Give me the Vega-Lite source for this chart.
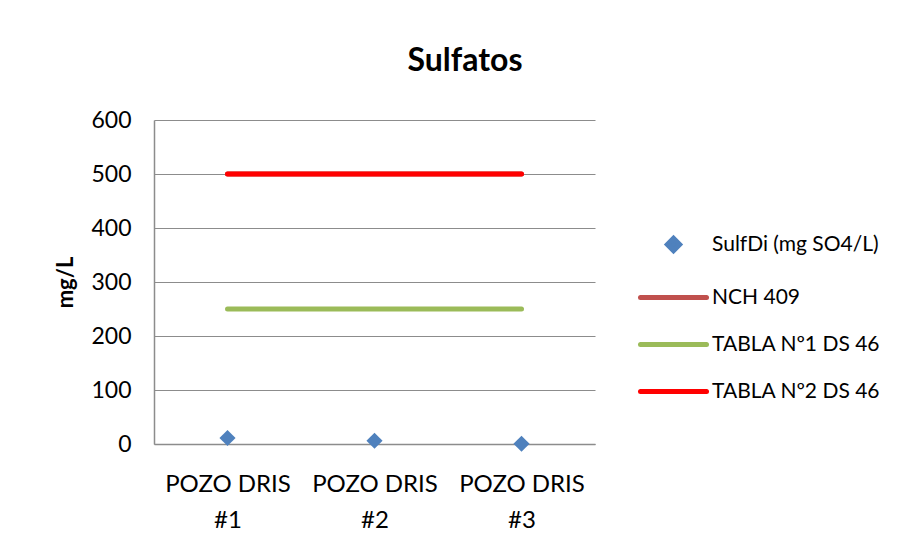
{
  "$schema": "https://vega.github.io/schema/vega-lite/v6.json",
  "width": 441,
  "height": 324,
  "padding": {"left": 54, "top": 45, "right": 5, "bottom": 5},
  "background": "white",
  "title": {"text": "Sulfatos", "fontSize": 32, "font": "Lato", "fontWeight": "bold", "color": "#000000", "anchor": "middle", "frame": "bounds", "offset": 31, "dx": -3},
  "config": {
    "view": {"stroke": null},
    "font": "Lato",
    "axis": {"labelFont": "Lato", "titleFont": "Lato", "labelColor": "#000000", "titleColor": "#000000", "domainColor": "#8c8c8c", "gridColor": "#8c8c8c", "ticks": false}
  },
  "datasets": {
    "muestras": [
      {"pozo": "POZO DRIS #1", "serie": "SulfDi (mg SO4/L)", "valor": 11},
      {"pozo": "POZO DRIS #2", "serie": "SulfDi (mg SO4/L)", "valor": 6},
      {"pozo": "POZO DRIS #3", "serie": "SulfDi (mg SO4/L)", "valor": 0.5}
    ],
    "limites": [
      {"pozo": "POZO DRIS #1", "serie": "NCH 409", "valor": 500},
      {"pozo": "POZO DRIS #2", "serie": "NCH 409", "valor": 500},
      {"pozo": "POZO DRIS #3", "serie": "NCH 409", "valor": 500},
      {"pozo": "POZO DRIS #1", "serie": "TABLA Nº1 DS 46", "valor": 250},
      {"pozo": "POZO DRIS #2", "serie": "TABLA Nº1 DS 46", "valor": 250},
      {"pozo": "POZO DRIS #3", "serie": "TABLA Nº1 DS 46", "valor": 250},
      {"pozo": "POZO DRIS #1", "serie": "TABLA Nº2 DS 46", "valor": 500},
      {"pozo": "POZO DRIS #2", "serie": "TABLA Nº2 DS 46", "valor": 500},
      {"pozo": "POZO DRIS #3", "serie": "TABLA Nº2 DS 46", "valor": 500}
    ]
  },
  "encoding": {
    "x": {"field": "pozo", "type": "nominal", "sort": null,
      "scale": {"paddingInner": 0, "paddingOuter": 0},
      "axis": {"title": null, "labelAngle": 0, "labelFontSize": 24, "labelPadding": 28, "labelLineHeight": 36, "labelExpr": "[slice(datum.label, 0, 9), slice(datum.label, 10)]", "domainWidth": 1.5}},
    "y": {"field": "valor", "type": "quantitative",
      "scale": {"domain": [0, 600], "nice": false},
      "axis": {"title": "mg/L", "titleFontSize": 22, "titleFontWeight": "bold", "titlePadding": 13, "values": [0, 100, 200, 300, 400, 500, 600], "labelFontSize": 23, "labelPadding": 23, "domainWidth": 1.5, "gridWidth": 1.2}},
    "color": {"field": "serie", "type": "nominal",
      "scale": {"domain": ["SulfDi (mg SO4/L)", "NCH 409", "TABLA Nº1 DS 46", "TABLA Nº2 DS 46"], "range": ["#4F81BD", "#C0504D", "#9BBB59", "#FF0000"]},
      "legend": {"title": null, "orient": "none", "legendX": 509, "legendY": 114, "labelFontSize": 21, "labelFont": "Lato", "labelColor": "#000000", "labelLimit": 400, "rowPadding": 25, "symbolOffset": 0, "labelOffset": 28,
        "symbolType": "M-6,0H6", "symbolSize": 121, "symbolStrokeWidth": 5,
        "encode": {"symbols": {"update": {
          "shape": {"signal": "datum.value === 'SulfDi (mg SO4/L)' ? 'diamond' : 'M-6,0H6'"},
          "size": {"signal": "datum.value === 'SulfDi (mg SO4/L)' ? 150 : 121"},
          "stroke": {"signal": "datum.value === 'SulfDi (mg SO4/L)' ? 'transparent' : scale('color', datum.value)"},
          "fill": {"signal": "datum.value === 'SulfDi (mg SO4/L)' ? scale('color', datum.value) : 'transparent'"},
          "strokeWidth": {"value": 5},
          "strokeCap": {"value": "round"}
        }}}}
    }
  },
  "layer": [
    {
      "data": {"name": "limites"},
      "mark": {"type": "line", "strokeWidth": 5, "strokeCap": "round"},
      "encoding": {"detail": {"field": "serie"}}
    },
    {
      "data": {"name": "muestras"},
      "mark": {"type": "point", "shape": "diamond", "filled": true, "size": 260, "opacity": 1}
    }
  ]
}
